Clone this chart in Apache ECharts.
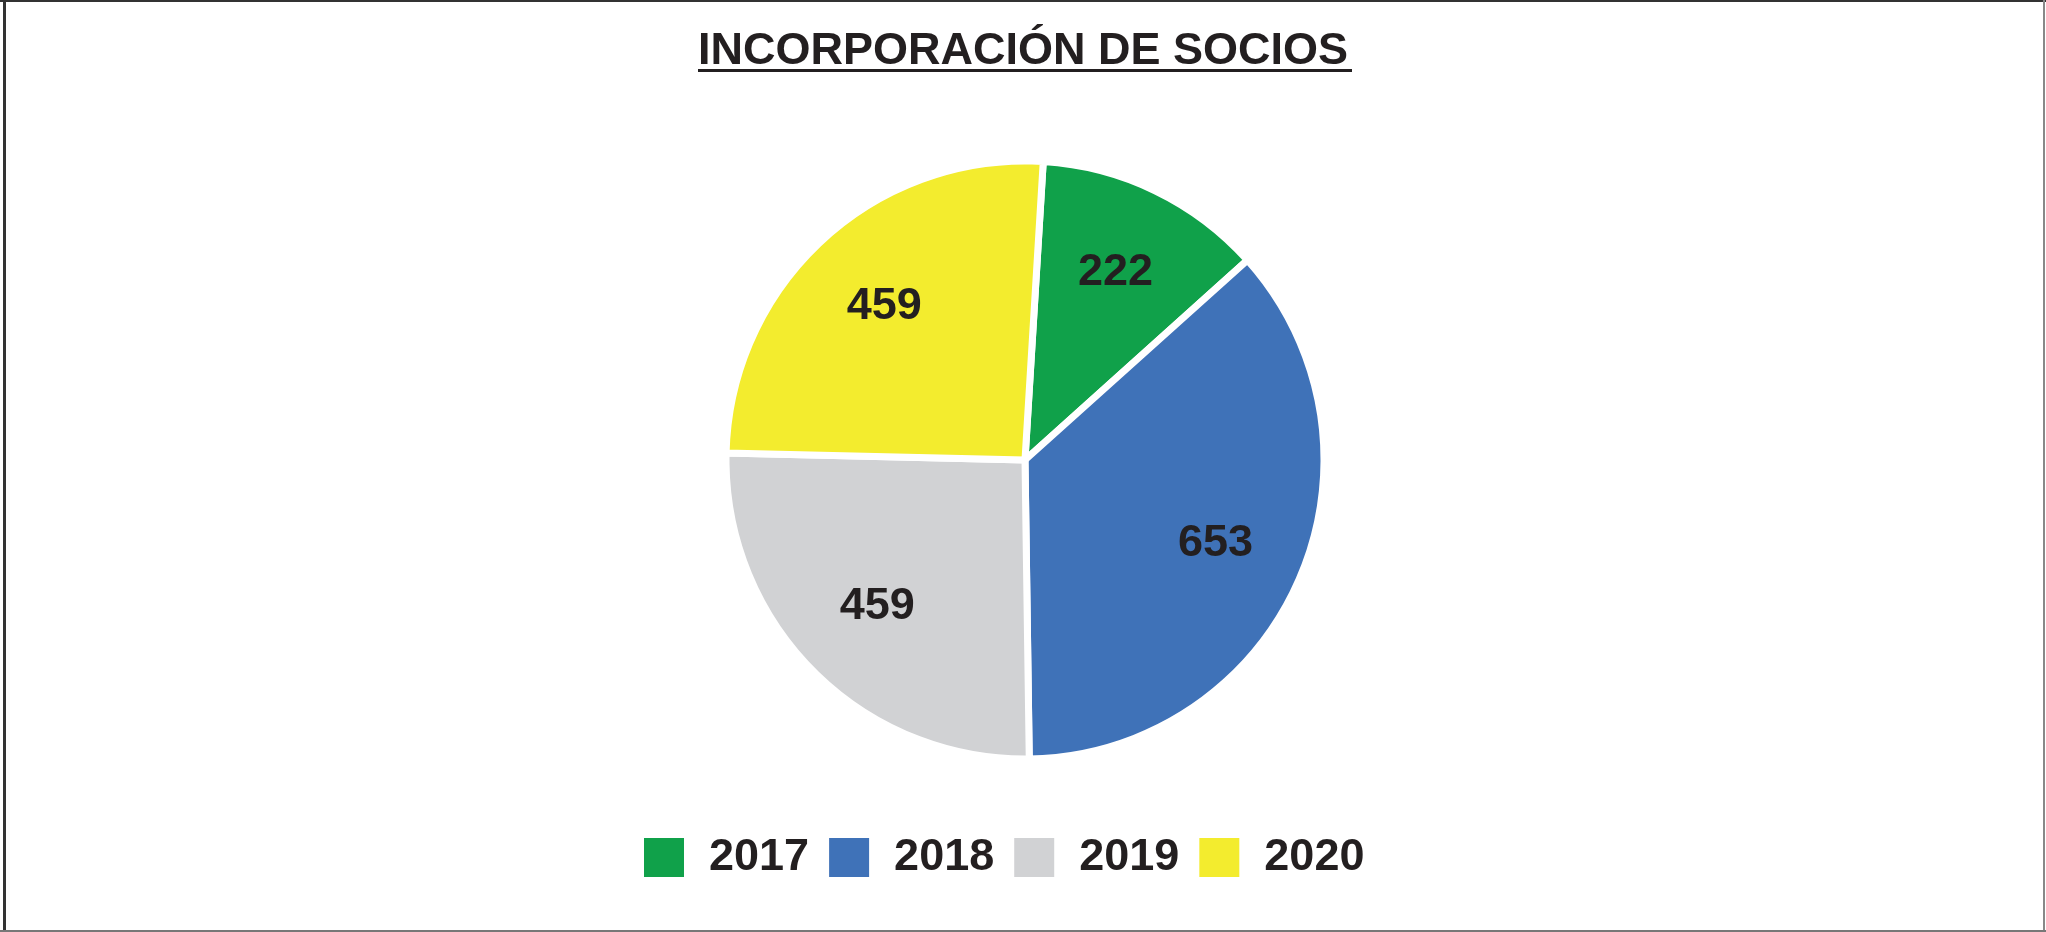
<!DOCTYPE html>
<html>
<head>
<meta charset="utf-8">
<script src="https://cdn.jsdelivr.net/npm/echarts@6/dist/echarts.min.js"></script>
<style>
  html, body {margin: 0; padding: 0; background: #fff;}
  #chart {width: 2046px; height: 932px;}
</style>
</head>
<body>
<div id="chart"></div>
<script>
// Socios incorporados por año
const YEARS = ["2017", "2018", "2019", "2020"]
const SOCIOS = [222, 653, 459, 459]
const COLORS = ["#10a14a", "#3f72b8", "#d1d2d4", "#f3ec2e"]

const TEXT = "#231f20"
const FONT = "'Liberation Sans', Arial, Helvetica, sans-serif"

const CENTER = [1025, 460]
const START = 86.5

const data = YEARS.map((y, i) => ({name: y, value: SOCIOS[i], itemStyle: {color: COLORS[i]}}))

const chart = echarts.init(document.getElementById("chart"), null, {renderer: "canvas"})

chart.setOption({
  backgroundColor: "#fff",
  animation: false,
  title: {
    text: "INCORPORACIÓN DE SOCIOS",
    left: "center",
    top: 24,
    textStyle: {fontFamily: FONT, fontSize: 45, fontWeight: "bold", color: TEXT},
  },
  legend: {
    left: 637,
    top: 830,
    icon: "rect",
    itemWidth: 42,
    itemHeight: 41,
    itemGap: 18,
    selectedMode: false,
    data: YEARS,
    textStyle: {fontFamily: FONT, fontSize: 45, fontWeight: "bold", color: TEXT, padding: [0, 0, 0, 19]},
  },
  graphic: [
    // underline of the title
    {type: "rect", shape: {x: 698, y: 69, width: 654, height: 3}, style: {fill: TEXT}},
    // frame
    {type: "line", shape: {x1: 4.5, y1: 0, x2: 4.5, y2: 932}, style: {stroke: "#333", lineWidth: 3}},
    {type: "line", shape: {x1: 0, y1: 1, x2: 2046, y2: 1}, style: {stroke: "#333", lineWidth: 2}},
    {type: "line", shape: {x1: 2044, y1: 0, x2: 2044, y2: 932}, style: {stroke: "#888", lineWidth: 2}},
    {type: "line", shape: {x1: 0, y1: 931, x2: 2046, y2: 931}, style: {stroke: "#777", lineWidth: 2}},
  ],
  series: [
    {
      name: "Socios",
      type: "pie",
      center: CENTER,
      radius: [0, 299],
      startAngle: START,
      clockwise: true,
      silent: true,
      label: {show: false},
      labelLine: {show: false},
      itemStyle: {borderColor: "#fff", borderWidth: 7},
      data: data,
    },
    {
      // invisible ring that only places the value labels
      name: "Etiquetas",
      type: "pie",
      center: CENTER,
      radius: [130, 280],
      startAngle: START,
      clockwise: true,
      silent: true,
      legendHoverLink: false,
      itemStyle: {color: "rgba(0,0,0,0)"},
      label: {
        show: true,
        position: "inside",
        formatter: "{c}",
        fontFamily: FONT,
        fontSize: 45,
        fontWeight: "bold",
        color: TEXT,
      },
      labelLine: {show: false},
      data: YEARS.map((y, i) => ({name: "v" + y, value: SOCIOS[i]})),
    },
  ],
})
</script>
</body>
</html>
